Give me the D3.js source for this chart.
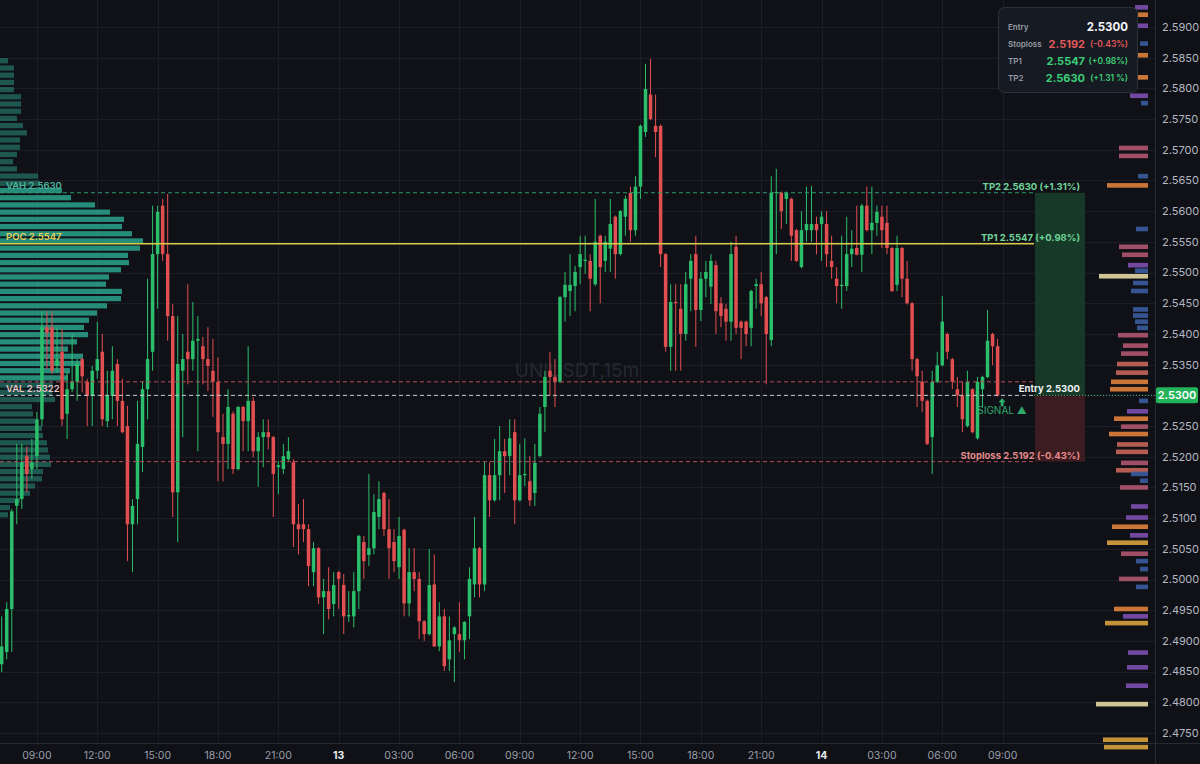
<!DOCTYPE html>
<html><head><meta charset="utf-8">
<script src="https://cdn.jsdelivr.net/npm/d3@7/dist/d3.min.js"></script>
<style>
html,body{margin:0;padding:0;background:#0f1117;}
svg{display:block;font-family:Inter,"Open Sans","DejaVu Sans",sans-serif;}
</style></head><body>
<svg id="c" width="1200" height="764"></svg>
<script>
// ---------- DATA ----------
const opens=[
2.4862,2.4882,2.4952,2.5120,2.5131,2.5201,2.5180,2.5201,2.5261,2.5411,
2.5411,2.5348,2.5371,2.5270,2.5310,2.5322,2.5359,2.5322,2.5299,2.5340,
2.5371,2.5258,2.5299,2.5351,2.5291,2.5250,2.5090,2.5131,2.5216,2.5310,
2.5371,2.5530,2.5609,2.5530,2.5429,2.5142,2.5340,2.5371,2.5359,2.5389,
2.5380,2.5359,2.5340,2.5322,2.5232,2.5221,2.5270,2.5180,2.5281,2.5258,
2.5291,2.5209,2.5232,2.5240,2.5232,2.5183,2.5180,2.5196,2.5191,2.5090,
2.5090,2.5082,2.5012,2.5051,2.4971,2.4981,2.4960,2.5012,2.4991,2.4940,
2.4940,2.4981,2.5061,2.5040,2.5051,2.5102,2.5141,2.5082,2.5061,2.5020,
2.5081,2.4961,2.5012,2.5001,2.4932,2.4911,2.4992,2.4891,2.4940,2.4870,
2.4911,2.4911,2.4901,2.4940,2.4992,2.5051,2.4992,2.5170,2.5129,2.5170,
2.5209,2.5201,2.5240,2.5129,2.5170,2.5160,2.5141,2.5201,2.5281,2.5340,
2.5330,2.5322,2.5460,2.5470,2.5478,2.5509,2.5519,2.5519,2.5481,2.5560,
2.5519,2.5539,2.5591,2.5530,2.5591,2.5630,2.5569,2.5640,2.5729,2.5790,
2.5739,2.5739,2.5530,2.5379,2.5452,2.5441,2.5400,2.5490,2.5530,2.5439,
2.5490,2.5477,2.5512,2.5450,2.5441,2.5420,2.5542,2.5420,2.5420,2.5410,
2.5478,2.5481,2.5460,2.5390,2.5630,2.5630,2.5620,2.5620,2.5569,2.5509,
2.5569,2.5569,2.5579,2.5579,2.5579,2.5519,2.5490,2.5478,2.5478,2.5530,
2.5540,2.5529,2.5609,2.5569,2.5581,2.5591,2.5581,2.5540,2.5480,2.5540,
2.5490,2.5450,2.5359,2.5322,2.5291,2.5232,2.5322,2.5349,2.5400,2.5359,
2.5310,2.5300,2.5250,2.5310,2.5230,2.5310,2.5330,2.5400,2.5380];
const highs=[
2.4940,2.4963,2.5115,2.5221,2.5221,2.5217,2.5229,2.5273,2.5437,2.5437,
2.5437,2.5411,2.5408,2.5338,2.5400,2.5359,2.5361,2.5327,2.5348,2.5420,
2.5400,2.5340,2.5380,2.5359,2.5327,2.5283,2.5131,2.5291,2.5322,2.5490,
2.5609,2.5609,2.5620,2.5628,2.5449,2.5429,2.5400,2.5481,2.5452,2.5429,
2.5395,2.5411,2.5392,2.5362,2.5270,2.5310,2.5274,2.5283,2.5283,2.5380,
2.5297,2.5240,2.5261,2.5261,2.5234,2.5193,2.5221,2.5232,2.5196,2.5123,
2.5131,2.5090,2.5061,2.5053,2.5001,2.5020,2.5012,2.5014,2.5009,2.4981,
2.5012,2.5073,2.5071,2.5172,2.5139,2.5160,2.5143,2.5131,2.5082,2.5102,
2.5083,2.5051,2.5051,2.5012,2.4934,2.5050,2.5041,2.4963,2.4952,2.4940,
2.4924,2.4963,2.4932,2.5020,2.5102,2.5053,2.5191,2.5191,2.5229,2.5250,
2.5229,2.5261,2.5261,2.5221,2.5230,2.5201,2.5221,2.5281,2.5340,2.5371,
2.5359,2.5462,2.5501,2.5530,2.5511,2.5560,2.5560,2.5530,2.5620,2.5562,
2.5560,2.5620,2.5593,2.5602,2.5625,2.5640,2.5657,2.5741,2.5840,2.5848,
2.5790,2.5741,2.5532,2.5481,2.5481,2.5481,2.5501,2.5530,2.5560,2.5501,
2.5519,2.5530,2.5519,2.5460,2.5449,2.5550,2.5560,2.5422,2.5422,2.5472,
2.5490,2.5501,2.5462,2.5657,2.5669,2.5632,2.5632,2.5622,2.5571,2.5600,
2.5640,2.5641,2.5591,2.5600,2.5600,2.5560,2.5509,2.5560,2.5591,2.5569,
2.5609,2.5612,2.5640,2.5640,2.5609,2.5609,2.5609,2.5542,2.5560,2.5542,
2.5519,2.5452,2.5361,2.5340,2.5293,2.5340,2.5371,2.5462,2.5402,2.5361,
2.5330,2.5322,2.5340,2.5312,2.5330,2.5332,2.5439,2.5402,2.5392];
const lows=[
2.4849,2.4870,2.4882,2.5090,2.5115,2.5142,2.5164,2.5180,2.5250,2.5343,
2.5335,2.5338,2.5250,2.5229,2.5305,2.5291,2.5305,2.5250,2.5250,2.5327,
2.5250,2.5248,2.5261,2.5250,2.5238,2.5030,2.5012,2.5090,2.5175,2.5261,
2.5340,2.5441,2.5519,2.5389,2.5102,2.5061,2.5232,2.5318,2.5340,2.5209,
2.5318,2.5307,2.5265,2.5160,2.5160,2.5180,2.5172,2.5178,2.5209,2.5209,
2.5199,2.5151,2.5183,2.5212,2.5102,2.5139,2.5172,2.5193,2.5053,2.5041,
2.5061,2.4989,2.4989,2.4960,2.4911,2.4935,2.4940,2.4952,2.4911,2.4931,
2.4922,2.4952,2.5001,2.5022,2.5041,2.5082,2.5071,2.5001,2.5012,2.5001,
2.4940,2.4940,2.4981,2.4903,2.4900,2.4909,2.4890,2.4883,2.4851,2.4851,
2.4833,2.4882,2.4870,2.4903,2.4971,2.4971,2.4981,2.5102,2.5127,2.5129,
2.5141,2.5170,2.5090,2.5127,2.5152,2.5120,2.5120,2.5199,2.5240,2.5300,
2.5281,2.5320,2.5420,2.5429,2.5437,2.5481,2.5498,2.5437,2.5478,2.5450,
2.5501,2.5501,2.5490,2.5528,2.5560,2.5550,2.5560,2.5620,2.5721,2.5748,
2.5688,2.5509,2.5371,2.5340,2.5340,2.5340,2.5389,2.5437,2.5379,2.5421,
2.5460,2.5449,2.5400,2.5411,2.5389,2.5389,2.5400,2.5359,2.5380,2.5380,
2.5441,2.5429,2.5318,2.5380,2.5530,2.5571,2.5579,2.5519,2.5517,2.5507,
2.5550,2.5550,2.5530,2.5519,2.5509,2.5490,2.5450,2.5441,2.5470,2.5509,
2.5528,2.5501,2.5567,2.5530,2.5560,2.5540,2.5530,2.5468,2.5470,2.5460,
2.5448,2.5340,2.5281,2.5273,2.5219,2.5172,2.5320,2.5347,2.5359,2.5310,
2.5281,2.5240,2.5248,2.5238,2.5228,2.5281,2.5328,2.5349,2.5298];
const closes=[
2.4891,2.4952,2.5111,2.5131,2.5191,2.5172,2.5191,2.5261,2.5411,2.5402,
2.5340,2.5359,2.5261,2.5310,2.5322,2.5351,2.5331,2.5299,2.5340,2.5359,
2.5261,2.5299,2.5340,2.5291,2.5240,2.5090,2.5120,2.5221,2.5310,2.5359,
2.5530,2.5599,2.5530,2.5429,2.5142,2.5351,2.5359,2.5359,2.5389,2.5392,
2.5359,2.5348,2.5322,2.5240,2.5221,2.5281,2.5180,2.5281,2.5258,2.5291,
2.5209,2.5232,2.5240,2.5232,2.5172,2.5186,2.5201,2.5209,2.5090,2.5082,
2.5082,2.5022,2.5051,2.4971,2.4981,2.4952,2.4991,2.5001,2.4940,2.4942,
2.4981,2.5071,2.5030,2.5051,2.5110,2.5131,2.5082,2.5051,2.5030,2.5071,
2.4961,2.5012,2.5001,2.4932,2.4911,2.4991,2.4891,2.4940,2.4859,2.4901,
2.4922,2.4901,2.4931,2.5001,2.5051,2.4992,2.5170,2.5129,2.5170,2.5209,
2.5201,2.5230,2.5129,2.5170,2.5172,2.5129,2.5190,2.5270,2.5330,2.5330,
2.5322,2.5460,2.5480,2.5480,2.5501,2.5530,2.5521,2.5490,2.5550,2.5509,
2.5550,2.5579,2.5530,2.5600,2.5620,2.5569,2.5640,2.5739,2.5799,2.5750,
2.5729,2.5530,2.5379,2.5452,2.5450,2.5400,2.5481,2.5519,2.5439,2.5490,
2.5501,2.5519,2.5437,2.5429,2.5420,2.5530,2.5410,2.5410,2.5400,2.5470,
2.5481,2.5450,2.5400,2.5630,2.5631,2.5600,2.5630,2.5560,2.5519,2.5569,
2.5579,2.5579,2.5569,2.5591,2.5530,2.5509,2.5478,2.5480,2.5530,2.5539,
2.5529,2.5609,2.5569,2.5581,2.5599,2.5569,2.5540,2.5470,2.5540,2.5490,
2.5450,2.5359,2.5331,2.5291,2.5221,2.5322,2.5349,2.5420,2.5371,2.5322,
2.5300,2.5261,2.5322,2.5240,2.5322,2.5330,2.5389,2.5380,2.5300];

const priceTicks=[2.4750,2.4800,2.4850,2.4900,2.4950,2.5000,2.5050,2.5100,2.5150,2.5200,2.5250,2.5300,
  2.5350,2.5400,2.5450,2.5500,2.5550,2.5600,2.5650,2.5700,2.5750,2.5800,2.5850,2.5900];
const timeTickBars=[7,19,31,43,55,67,79,91,103,115,127,139,151,163,175,187,199];
const timeTickLabels=["09:00","12:00","15:00","18:00","21:00","13","03:00","06:00","09:00",
  "12:00","15:00","18:00","21:00","14","03:00","06:00","09:00"];

// left (fixed-range) volume profile: volume per price bin, top to bottom
const vpTopPrice=2.5845, vpBinStep=0.001174;
const vpVolumes=[8,14,14,14,14,21,21,21,17,23,27,20,20,17,13,17,38,40,62,71,
  95,110,124,122,132,143,140,128,129,121,109,106,122,121,107,97,89,84,88,77,
  68,83,82,70,68,53,52,55,32,33,35,42,43,47,48,50,51,43,42,35,30,20,10,8];

// right (session) volume profile
const rpPrices=[2.5932,2.5920,2.5902,2.5873,2.5854,2.5818,2.5788,2.5776,2.5703,2.5690,
  2.5657,2.5642,2.5571,2.5542,2.5529,2.5512,2.5503,2.5494,2.5483,2.5470,
  2.5440,2.5430,2.5420,2.5410,2.5398,2.5381,2.5368,2.5351,2.5337,2.5322,
  2.5310,2.5291,2.5274,2.5262,2.5249,2.5237,2.5220,2.5208,2.5190,2.5178,
  2.5172,2.5161,2.5150,2.5119,2.5101,2.5086,2.5072,2.5060,2.5042,2.5030,
  2.5017,2.5001,2.4988,2.4952,2.4940,2.4929,2.4881,2.4857,2.4827,2.4797,
  2.4739,2.4727];
const rpVolumes=[13,10,10,8,10,10,18,7,29,29,
  10,41,12,29,26,20,13,49,15,17,
  15,15,13,11,30,25,27,31,32,37,
  38,9,21,34,27,39,31,32,27,32,
  17,8,28,17,22,36,18,41,27,12,
  8,29,12,34,25,43,20,21,22,52,
  45,44];
const rpKinds=["pu","or","pu","bl","or","or","pu","bl","pk","pk",
  "bl","or","bl","pk","pk","pu","bl","cr","bl","bl",
  "bl","bl","bl","bl","pk","pk","pk","sa","sa","or",
  "or","bl","pu","or","pk","or","sa","sa","pk","sa",
  "bl","bl","pk","pu","pu","or","pu","ye","pk","bl",
  "bl","pk","bl","or","pu","ye","pu","pu","pu","cr",
  "ye","ye"];

const entry=2.5300, stoploss=2.5192, tp1=2.5547, tp2=2.5630;
const vah=2.5630, poc=2.5547, val=2.5322;

// ---------- DRAW ----------
const svg=d3.select("#c");
const W=1200,H=764, plotRight=1155, plotBottom=743, lineEnd=1034;
const bg="#0f1117", grid="#1b1e26", up="#2cbf6b", down="#e24f51";
svg.append("rect").attr("width",W).attr("height",H).attr("fill",bg);

const x=d3.scaleLinear().domain([0,198]).range([1.7,997.6]);
const y=d3.scaleLinear().domain([2.475,2.59]).range([733,27]);

// grid
svg.append("g").selectAll("line").data(priceTicks).join("line")
  .attr("x1",0).attr("x2",plotRight).attr("y1",d=>Math.round(y(d))+0.5).attr("y2",d=>Math.round(y(d))+0.5)
  .attr("stroke",grid).attr("stroke-width",1);
svg.append("g").selectAll("line").data(timeTickBars).join("line")
  .attr("y1",0).attr("y2",plotBottom).attr("x1",d=>Math.round(x(d))+0.5).attr("x2",d=>Math.round(x(d))+0.5)
  .attr("stroke",grid).attr("stroke-width",1);

// watermark
svg.append("text").attr("x",577).attr("y",377).attr("text-anchor","middle")
  .attr("font-size",19).attr("fill","#252932").text("UNIUSDT,15m");

// left volume profile
const vpX=d3.scaleLinear().domain([0,d3.max(vpVolumes)]).range([0,143]);
const vpPrices=vpVolumes.map((v,i)=>vpTopPrice-i*vpBinStep);
svg.append("g").selectAll("rect").data(vpVolumes).join("rect")
  .attr("x",0).attr("y",(d,i)=>y(vpPrices[i])-2.6).attr("height",5.2)
  .attr("width",d=>vpX(d))
  .attr("fill","#2b9e8a")
  .attr("opacity",(d,i)=> (vpPrices[i]<=vah+0.0004 && vpPrices[i]>=val-0.0004)?0.88:0.5);

// right volume profile
const rpColors={pu:"#7d4fb0",or:"#e0823a",bl:"#3b5c9e",pk:"#b0566f",sa:"#c9665a",ye:"#d9a23c",cr:"#e4d9a3"};
const rpX=d3.scaleLinear().domain([0,60]).range([0,60]);
svg.append("g").selectAll("rect").data(rpVolumes).join("rect")
  .attr("x",d=>1148-rpX(d)).attr("width",d=>rpX(d))
  .attr("y",(d,i)=>y(rpPrices[i])-2.3).attr("height",4.6)
  .attr("fill",(d,i)=>rpColors[rpKinds[i]]).attr("opacity",0.9);

// position boxes
svg.append("rect").attr("x",1035).attr("width",50).attr("y",y(tp2)).attr("height",y(entry)-y(tp2))
  .attr("fill","#163a27");
svg.append("rect").attr("x",1035).attr("width",50).attr("y",y(entry)).attr("height",y(stoploss)-y(entry))
  .attr("fill","#3b1c20");

// candles
const idx=d3.range(opens.length);
const cg=svg.append("g");
cg.selectAll("line").data(idx).join("line")
  .attr("x1",i=>x(i)).attr("x2",i=>x(i)).attr("y1",i=>y(highs[i])).attr("y2",i=>y(lows[i]))
  .attr("stroke",i=>closes[i]>=opens[i]?up:down).attr("stroke-width",1);
cg.selectAll("rect").data(idx).join("rect")
  .attr("x",i=>x(i)-1.75).attr("width",3.5)
  .attr("y",i=>y(Math.max(opens[i],closes[i])))
  .attr("height",i=>Math.max(1,Math.abs(y(opens[i])-y(closes[i]))))
  .attr("fill",i=>closes[i]>=opens[i]?up:down);

// level lines
const levels=[
 {p:tp2,c:"#2f9a6a",dash:"4,3",w:1},
 {p:poc,c:"#d8cb45",dash:null,w:1.6},
 {p:val,c:"#b5505a",dash:"4,3",w:1},
 {p:entry,c:"#c9cdd3",dash:"4,3",w:1},
 {p:stoploss,c:"#b5505a",dash:"4,3",w:1}];
svg.append("g").selectAll("line").data(levels).join("line")
  .attr("x1",0).attr("x2",lineEnd).attr("y1",d=>y(d.p)).attr("y2",d=>y(d.p))
  .attr("stroke",d=>d.c).attr("stroke-width",d=>d.w).attr("stroke-dasharray",d=>d.dash);
svg.append("line").attr("x1",lineEnd).attr("x2",plotRight).attr("y1",y(entry)).attr("y2",y(entry))
  .attr("stroke","#3fbf7f").attr("stroke-width",1).attr("stroke-dasharray","1,2");

// left labels
const ll=svg.append("g").attr("font-size",9.5).attr("font-weight",600);
ll.append("text").attr("x",6).attr("y",y(vah)-4).attr("fill","#4fb59e").text("VAH  2.5630");
ll.append("text").attr("x",6).attr("y",y(poc)-4).attr("fill","#e3d35a").text("POC  2.5547");
ll.append("text").attr("x",6).attr("y",y(val)+10).attr("fill","#e6c2c4").text("VAL  2.5322");

// right labels
const rl=svg.append("g").attr("font-size",9.5).attr("font-weight",700).attr("text-anchor","end");
rl.append("text").attr("x",1080).attr("y",y(tp2)-3).attr("fill","#6fd49a").text("TP2 2.5630 (+1.31%)");
rl.append("text").attr("x",1080).attr("y",y(tp1)-3).attr("fill","#6fd49a").text("TP1 2.5547 (+0.98%)");
rl.append("text").attr("x",1080).attr("y",y(entry)-3).attr("fill","#f0f2f5").text("Entry 2.5300");
rl.append("text").attr("x",1080).attr("y",y(stoploss)-3).attr("fill","#e48a8a").text("Stoploss 2.5192 (-0.43%)");

// signal marker
const sx=x(198)+4.5;
svg.append("path").attr("d",`M${sx},${y(entry)+3} l-3.5,4 h2.2 v4 h2.6 v-4 h2.2 z`).attr("fill","#2fb36a");
svg.append("text").attr("x",sx).attr("y",y(entry)+19).attr("text-anchor","middle")
  .attr("font-size",10).attr("fill","#2fa86a").text("SIGNAL ▲");

// axes separators
svg.append("line").attr("x1",plotRight+0.5).attr("x2",plotRight+0.5).attr("y1",0).attr("y2",H).attr("stroke","#262a33");
svg.append("line").attr("x1",0).attr("x2",W).attr("y1",plotBottom+0.5).attr("y2",plotBottom+0.5).attr("stroke","#262a33");

// right axis (the current-price tag covers its own tick)
svg.append("g").selectAll("text").data(priceTicks.filter(d=>Math.abs(d-entry)>1e-6)).join("text")
  .attr("x",1162).attr("y",d=>y(d)).attr("dy","0.35em")
  .attr("font-size",11).attr("fill","#b4b8c2").text(d=>d.toFixed(4));
svg.append("rect").attr("x",1156).attr("y",y(entry)-8).attr("width",42).attr("height",16).attr("rx",2).attr("fill","#23b35a");
svg.append("text").attr("x",1177).attr("y",y(entry)).attr("dy","0.35em").attr("text-anchor","middle")
  .attr("font-size",11).attr("font-weight",600).attr("fill","#ffffff").text(entry.toFixed(4));

// bottom axis
svg.append("g").selectAll("text").data(timeTickBars).join("text")
  .attr("x",d=>x(d)).attr("y",755).attr("dy","0.35em").attr("text-anchor","middle")
  .attr("font-size",10.5)
  .attr("font-weight",(d,i)=>timeTickLabels[i].length<3?700:400)
  .attr("fill",(d,i)=>timeTickLabels[i].length<3?"#e8eaee":"#9a9fa9")
  .text((d,i)=>timeTickLabels[i]);

// info box
const ib=svg.append("g");
ib.append("rect").attr("x",998.5).attr("y",7.5).attr("width",139).attr("height",85).attr("rx",6)
  .attr("fill","#161a22").attr("stroke","#2c313b");
const rows=[
 {k:"Entry",v:"2.5300",pct:null,c:"#f2f4f7",yy:27},
 {k:"Stoploss",v:"2.5192",pct:"(-0.43%)",c:"#e25a5a",yy:44},
 {k:"TP1",v:"2.5547",pct:"(+0.98%)",c:"#3ecf78",yy:61},
 {k:"TP2",v:"2.5630",pct:"(+1.31 %)",c:"#3ecf78",yy:78}];
rows.forEach(r=>{
  ib.append("text").attr("x",1008).attr("y",r.yy).attr("dy","0.35em").attr("font-size",8)
    .attr("font-weight",600).attr("fill","#979ca6").text(r.k);
  if(r.pct){
    ib.append("text").attr("x",1085).attr("y",r.yy).attr("dy","0.35em").attr("text-anchor","end")
      .attr("font-size",11).attr("font-weight",700).attr("fill",r.c).text(r.v);
    ib.append("text").attr("x",1128).attr("y",r.yy).attr("dy","0.35em").attr("text-anchor","end")
      .attr("font-size",8.5).attr("font-weight",600).attr("fill",r.c).text(r.pct);
  } else {
    ib.append("text").attr("x",1128).attr("y",r.yy).attr("dy","0.35em").attr("text-anchor","end")
      .attr("font-size",11.5).attr("font-weight",700).attr("fill",r.c).text(r.v);
  }
});
</script>
</body></html>
